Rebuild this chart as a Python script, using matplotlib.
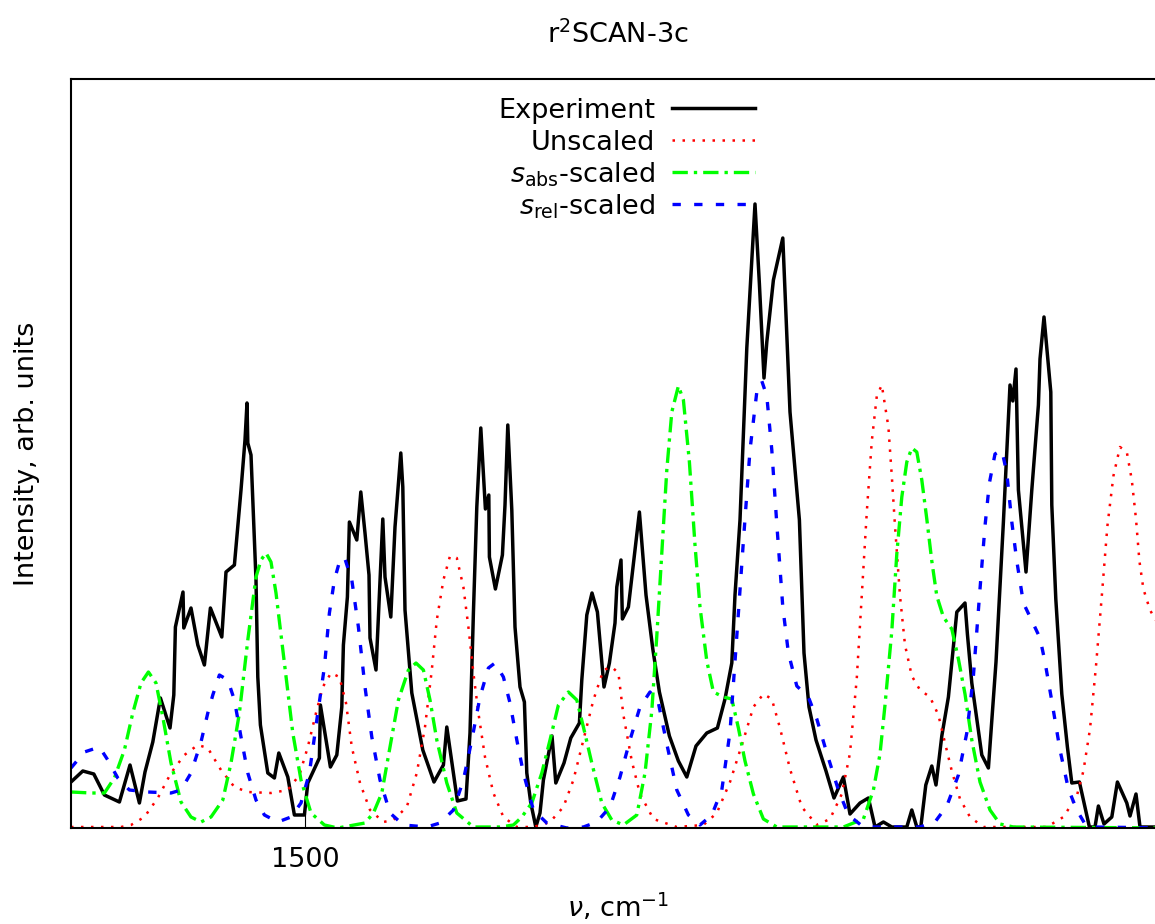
import matplotlib
matplotlib.use("Agg")
import matplotlib.pyplot as plt

# wavenumber (cm-1) / intensity (arb. units)
exp_nu = [1383.0, 1388.9, 1394.4, 1399.7, 1407.2, 1412.5, 1417.2, 1420.0, 1423.9, 1427.7,
          1432.5, 1434.4, 1435.2, 1439.0, 1439.4, 1443.0, 1446.4, 1449.7, 1452.7, 1458.4,
          1460.5, 1464.7, 1468.0, 1470.0, 1471.0, 1471.4, 1473.0, 1475.5, 1476.4, 1477.7,
          1481.4, 1484.7, 1486.9, 1491.4, 1494.7, 1499.7, 1501.4, 1507.2, 1507.7, 1512.7,
          1515.9, 1518.4, 1519.2, 1521.2, 1522.2, 1525.9, 1527.9, 1530.0, 1532.0, 1532.5,
          1535.5, 1538.9, 1540.0, 1542.9, 1545.0, 1547.9, 1548.9, 1550.0, 1553.4, 1558.9,
          1564.5, 1569.2, 1570.9, 1576.2, 1580.5, 1582.5, 1584.2, 1585.9, 1587.9, 1590.2,
          1591.9, 1592.2, 1595.2, 1598.7, 1600.0, 1601.4, 1603.4, 1605.0, 1607.5, 1609.7,
          1610.9, 1612.9, 1615.4, 1617.5, 1619.2, 1623.5, 1625.4, 1629.5, 1632.9, 1637.2,
          1638.4, 1640.9, 1643.5, 1646.2, 1649.5, 1652.2, 1655.0, 1655.9, 1658.0, 1658.7,
          1661.7, 1667.2, 1670.5, 1673.9, 1677.2, 1682.2, 1686.7, 1690.9, 1695.5, 1700.9,
          1706.2, 1710.0, 1713.4, 1715.0, 1717.5, 1720.9, 1725.0, 1727.2, 1729.5, 1730.9,
          1734.2, 1738.9, 1742.5, 1747.2, 1749.5, 1752.0, 1755.5, 1760.5, 1764.5, 1769.2,
          1772.5, 1777.5, 1781.7, 1785.0, 1789.2, 1793.4, 1800.9, 1803.4, 1805.9, 1807.9,
          1810.4, 1813.4, 1815.5, 1818.4, 1821.7, 1825.9, 1830.0, 1831.2, 1833.4, 1838.4,
          1841.7, 1845.5, 1849.2, 1852.5, 1853.9, 1855.5, 1856.7, 1860.5, 1863.4, 1866.7,
          1867.5, 1869.5, 1872.9, 1873.4, 1875.4, 1878.4, 1881.2, 1883.4, 1887.2, 1892.2,
          1895.0, 1896.7, 1899.5, 1903.4, 1906.2, 1910.9, 1912.5, 1915.5, 1917.5, 1932.5]
exp_int = [46, 57, 54, 33, 26, 63, 25, 56, 86, 130,
           100, 133, 201, 236, 200, 220, 183, 163, 220, 191,
           256, 263, 338, 388, 425, 385, 373, 248, 151, 103,
           55, 50, 75, 51, 13, 13, 45, 70, 123, 61,
           73, 121, 183, 231, 306, 288, 336, 295, 253, 190,
           158, 309, 251, 211, 301, 375, 341, 218, 135, 78,
           46, 63, 101, 27, 29, 95, 215, 321, 400, 319,
           333, 271, 239, 273, 323, 403, 318, 201, 141, 126,
           55, 25, 1, 15, 48, 92, 45, 65, 90, 105,
           148, 213, 235, 216, 141, 165, 205, 241, 268, 209,
           221, 316, 233, 179, 136, 92, 67, 51, 82, 95,
           100, 129, 165, 233, 308, 480, 624, 544, 450, 486,
           548, 590, 416, 308, 175, 121, 88, 57, 30, 51,
           14, 25, 30, 1, 6, 1, 1, 18, 1, 1,
           43, 62, 43, 92, 131, 216, 225, 194, 145, 73,
           60, 166, 306, 443, 427, 459, 338, 256, 338, 423,
           469, 511, 436, 323, 229, 134, 81, 45, 46, 1,
           1, 22, 4, 11, 46, 25, 12, 34, 1, 1]

unsc_nu = [1383.0, 1408.0, 1413.0, 1419.7, 1426.4, 1433.0, 1439.7, 1446.4, 1451.4, 1458.0,
           1464.7, 1471.4, 1483.0, 1491.4, 1497.2, 1501.4, 1505.5, 1508.9, 1513.0, 1517.2,
           1520.5, 1523.4, 1527.5, 1532.5, 1539.2, 1544.2, 1550.9, 1555.9, 1560.0, 1563.4,
           1565.9, 1569.2, 1572.5, 1575.9, 1579.2, 1581.7, 1584.2, 1586.7, 1590.0, 1594.2,
           1599.2, 1605.9, 1614.2, 1622.5, 1629.2, 1634.2, 1639.2, 1644.2, 1649.2, 1653.4,
           1656.7, 1659.2, 1663.4, 1667.5, 1674.2, 1685.9, 1699.2, 1705.9, 1712.5, 1719.2,
           1724.2, 1729.2, 1733.4, 1737.5, 1742.5, 1748.4, 1755.9, 1762.5, 1768.4, 1772.5,
           1775.9, 1778.4, 1780.9, 1783.4, 1785.9, 1788.4, 1791.7, 1793.4, 1795.0, 1797.5,
           1800.0, 1803.4, 1807.5, 1812.5, 1816.7, 1820.0, 1823.4, 1827.5, 1832.5, 1839.2,
           1870.9, 1879.2, 1885.9, 1889.2, 1892.5, 1895.5, 1898.4, 1901.2, 1904.2, 1907.5,
           1910.9, 1913.4, 1915.5, 1917.2, 1919.2, 1922.5, 1925.0, 1930.0]
unsc_int = [1, 1, 3, 11, 30, 55, 73, 83, 80, 58,
            41, 36, 35, 38, 53, 81, 115, 141, 155, 151,
            125, 81, 45, 18, 6, 8, 21, 55, 101, 158,
            208, 248, 272, 270, 241, 201, 155, 115, 71, 35,
            11, 1, 1, 6, 21, 48, 88, 128, 158, 161,
            155, 113, 67, 34, 9, 1, 3, 15, 46, 88,
            121, 134, 129, 100, 59, 21, 3, 9, 34, 75,
            150, 233, 316, 387, 432, 443, 401, 352, 302, 232,
            183, 152, 138, 131, 113, 85, 57, 29, 11, 1,
            1, 11, 32, 57, 99, 162, 232, 302, 352, 381,
            376, 348, 309, 267, 239, 218, 209, 195]

sabs_nu = [1383.0, 1393.0, 1399.7, 1404.7, 1409.7, 1413.9, 1418.0, 1421.7, 1425.5, 1428.9,
           1433.0, 1438.0, 1443.0, 1448.0, 1453.0, 1458.9, 1463.0, 1467.2, 1471.4, 1475.5,
           1478.0, 1480.5, 1483.0, 1485.5, 1489.7, 1493.9, 1498.0, 1503.0, 1509.7, 1516.4,
           1530.0, 1534.2, 1538.4, 1542.5, 1546.7, 1551.7, 1555.5, 1559.2, 1562.5, 1565.9,
           1570.9, 1575.9, 1584.2, 1597.5, 1604.2, 1608.4, 1613.4, 1618.4, 1622.5, 1626.7,
           1631.7, 1635.9, 1639.2, 1643.4, 1648.4, 1653.4, 1659.2, 1665.9, 1670.0, 1673.4,
           1675.9, 1678.4, 1680.9, 1683.4, 1686.7, 1689.2, 1692.2, 1695.0, 1697.5, 1700.9,
           1704.2, 1709.2, 1713.4, 1716.7, 1720.0, 1724.2, 1729.2, 1735.9, 1769.2, 1779.2,
           1784.2, 1787.5, 1790.0, 1793.4, 1795.9, 1798.4, 1800.9, 1803.4, 1805.9, 1808.4,
           1810.9, 1813.4, 1815.9, 1819.2, 1823.4, 1826.7, 1830.0, 1833.4, 1837.5, 1842.5,
           1847.5, 1854.2, 1932.5]
sabs_int = [36, 35, 35, 50, 78, 115, 145, 156, 145, 111,
            65, 26, 11, 6, 11, 28, 65, 115, 188, 251,
            268, 275, 266, 235, 165, 95, 48, 15, 3, 0,
            5, 15, 35, 81, 128, 158, 165, 158, 128, 88,
            45, 15, 1, 1, 3, 11, 25, 55, 88, 123,
            136, 128, 101, 65, 25, 8, 3, 13, 55, 117,
            192, 275, 358, 416, 442, 428, 366, 283, 221, 167,
            136, 131, 129, 100, 67, 34, 9, 1, 1, 9,
            38, 74, 123, 197, 274, 331, 366, 380, 376, 348,
            309, 267, 232, 211, 199, 169, 134, 88, 46, 18,
            4, 1, 0]

srel_nu = [1383.0, 1389.7, 1397.2, 1401.4, 1406.4, 1412.2, 1421.4, 1433.0, 1438.0, 1443.0,
           1448.0, 1451.4, 1453.9, 1457.2, 1461.4, 1464.7, 1468.0, 1471.4, 1475.5, 1479.7,
           1486.4, 1493.0, 1498.0, 1502.2, 1506.4, 1509.7, 1512.2, 1514.7, 1517.2, 1519.7,
           1522.2, 1523.4, 1526.7, 1530.0, 1533.4, 1537.5, 1542.5, 1549.2, 1560.9, 1567.5,
           1574.2, 1579.2, 1583.4, 1587.5, 1591.7, 1595.0, 1599.2, 1602.5, 1605.9, 1609.2,
           1614.2, 1620.9, 1630.9, 1639.2, 1645.9, 1652.5, 1657.5, 1662.5, 1667.5, 1672.5,
           1676.7, 1680.9, 1685.9, 1691.7, 1697.5, 1703.4, 1708.4, 1712.5, 1715.9, 1719.2,
           1722.5, 1725.9, 1728.4, 1730.9, 1733.4, 1735.9, 1738.9, 1741.7, 1745.9, 1751.7,
           1755.9, 1760.9, 1766.7, 1771.7, 1779.2, 1807.5, 1815.0, 1820.9, 1826.7, 1830.9,
           1834.2, 1837.5, 1840.0, 1842.2, 1845.0, 1848.4, 1850.9, 1853.4, 1855.9, 1859.2,
           1864.2, 1867.5, 1870.0, 1873.4, 1877.5, 1881.7, 1885.9, 1890.0, 1894.2, 1932.5]
srel_int = [60, 76, 81, 68, 50, 38, 36, 35, 38, 55,
            86, 115, 133, 153, 148, 128, 91, 55, 28, 13,
            6, 11, 25, 55, 115, 161, 215, 248, 266, 271,
            255, 248, 201, 141, 91, 48, 15, 3, 1, 5,
            18, 48, 88, 131, 160, 165, 151, 125, 88, 55,
            18, 5, 0, 1, 6, 21, 51, 88, 121, 136,
            125, 84, 38, 13, 3, 13, 38, 96, 192, 287,
            378, 436, 447, 432, 378, 304, 221, 175, 142, 131,
            109, 75, 38, 13, 1, 1, 6, 22, 53, 95,
            152, 239, 302, 345, 374, 378, 355, 306, 267, 225,
            204, 190, 166, 127, 78, 39, 18, 4, 1, 0]

labels = ["Experiment", "Unscaled", r"$s_\mathrm{abs}$-scaled", r"$s_\mathrm{rel}$-scaled"]
colors = ["black", "#ff0000", "#00ff00", "#0000ff"]
widths = [2.5, 1.8, 2.4, 2.4]
dashes = [None, (1.0, 3.0), (4.6, 1.8, 1, 1.8), (2.5, 4.0)]

fig = plt.figure(figsize=(11.55, 9.24), dpi=100)
ax = fig.add_axes([71 / 1155, 96 / 924, 1094 / 1155, 749 / 924])

series = [(exp_nu, exp_int), (unsc_nu, unsc_int), (sabs_nu, sabs_int), (srel_nu, srel_int)]
for (nu, inten), c, lw, d in zip(series, colors, widths, dashes):
    line, = ax.plot(nu, inten, color=c, lw=lw)
    if d is not None:
        line.set_dashes(d)

# legend gnuplot-style: right aligned text, sample on the right
for i, (lab, c, lw, d) in enumerate(zip(labels, colors, widths, dashes)):
    yl = 0.9613 - i * 0.0427
    ax.text(0.534, yl - 0.0135, lab, transform=ax.transAxes, ha="right", va="baseline", fontsize=19.5)
    smp, = ax.plot([0.5494, 0.6252], [yl, yl], transform=ax.transAxes, color=c, lw=lw)
    if d is not None:
        smp.set_dashes(d)

ax.set_xlim(1383, 1930)
ax.set_ylim(0, 749)
ax.set_xticks([1500])
ax.set_yticks([])
ax.tick_params(axis="x", direction="in", length=10, width=0.8, labelsize=19.5, pad=14)
for s in ax.spines.values():
    s.set_linewidth(1.5)

ax.set_title("r$^2$SCAN-3c", fontsize=19.5, pad=26)
ax.set_xlabel(r"$\nu$, cm$^{-1}$", fontsize=19.5, labelpad=13)
ax.set_ylabel("Intensity, arb. units", fontsize=19.5, labelpad=22)

fig.savefig("out.png", dpi=100)
